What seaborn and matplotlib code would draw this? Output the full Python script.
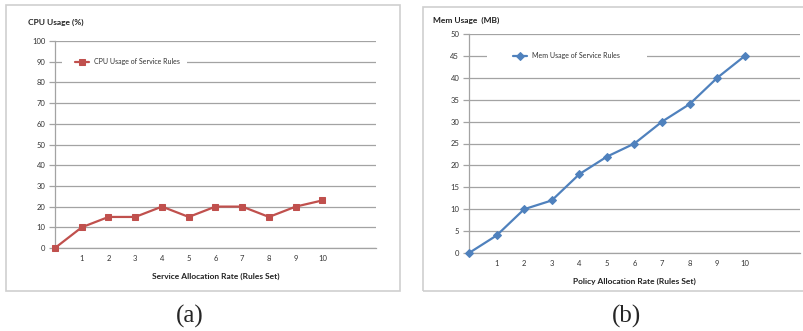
import matplotlib
matplotlib.use("Agg")
import matplotlib.pyplot as plt
from matplotlib.patches import Rectangle
import seaborn as sns
import pandas as pd

# values
rules_set = [0, 1, 2, 3, 4, 5, 6, 7, 8, 9, 10]
cpu_usage = [0, 10, 15, 15, 20, 15, 20, 20, 15, 20, 23]
mem_usage = [0, 4, 10, 12, 18, 22, 25, 30, 34, 40, 45]
x_tick_labels = ["1", "2", "3", "4", "5", "6", "7", "8", "9", "10"]
cpu_ticks = list(range(0, 101, 10))
mem_ticks = list(range(0, 51, 5))

RED = "#C0504D"
BLUE = "#4F81BD"
GRID = "#a3a3a3"

sns.set_theme(style="white")
plt.rcParams["font.family"] = ["Lato", "DejaVu Sans"]

fig = plt.figure(figsize=(8.04, 3.31), dpi=100)
W, H = 804, 331


def px_box(x0, y0, x1, y1):
    # pixel box (top-left origin) -> figure fraction [left, bottom, width, height]
    return [x0 / W, 1 - y1 / H, (x1 - x0) / W, (y1 - y0) / H]


# outer frames around each panel
for x0, y0, x1, y1 in [(6, 5, 400, 291), (423, 7, 806, 291)]:
    l, b, w, h = px_box(x0, y0, x1, y1)
    fig.patches.append(Rectangle((l, b), w, h, transform=fig.transFigure,
                                 fill=False, edgecolor="#cfcfcf", linewidth=1.2))


def draw_panel(box, values, ticks, color, marker, msize, label, ylabel, xlabel,
               ylabel_xy, gap, leg_x):
    ax = fig.add_axes(px_box(*box))
    df = pd.DataFrame({"x": rules_set, "y": values})
    sns.lineplot(data=df, x="x", y="y", ax=ax, color=color, linewidth=1.6,
                 marker=marker, markersize=msize, markeredgecolor=color,
                 label=label, zorder=3, clip_on=False)
    ax.set_xlim(0, 12)
    ax.set_ylim(ticks[0], ticks[-1])
    ax.set_yticks(ticks)
    ax.set_xticks(rules_set[1:])
    ax.set_xticklabels(x_tick_labels)
    ax.set_axisbelow(True)
    ax.yaxis.grid(True, color=GRID, linewidth=0.9)
    ax.xaxis.grid(False)
    for s in ["top", "right"]:
        ax.spines[s].set_visible(False)
    for s in ["left", "bottom"]:
        ax.spines[s].set_color(GRID)
        ax.spines[s].set_linewidth(0.9)
    ax.tick_params(axis="y", left=True, length=4, color=GRID, width=0.9,
                   labelsize=5.5, pad=3, labelcolor="#333333")
    ax.tick_params(axis="x", bottom=False, length=0, labelsize=5.5, pad=5,
                   labelcolor="#333333")
    ax.set_xlabel(xlabel, fontsize=6, fontweight="bold", labelpad=8,
                  color="#222222")
    ax.set_ylabel("")
    fig.text(ylabel_xy[0] / W, 1 - ylabel_xy[1] / H, ylabel, fontsize=6,
             fontweight="bold", color="#222222", va="center", ha="left")
    # white strip hiding the grid line behind the legend
    ax.add_patch(Rectangle((gap[0], 0.87), gap[1] - gap[0], 0.06,
                           transform=ax.transAxes, facecolor="white",
                           edgecolor="none", zorder=1))
    ax.legend(loc="center left", bbox_to_anchor=(leg_x, 0.9), frameon=False,
              fontsize=5, borderpad=0, borderaxespad=0, handlelength=2.0,
              handletextpad=0.7, labelcolor="#333333")
    return ax


draw_panel((55, 41, 376, 248), cpu_usage, cpu_ticks, RED, "s", 5,
           "CPU Usage of Service Rules", "CPU Usage (%)",
           "Service Allocation Rate (Rules Set)", (28, 22),
           (0.022, 0.411), 0.062)
draw_panel((469, 34, 800, 253), mem_usage, mem_ticks, BLUE, "D", 3.6,
           "Mem Usage of Service Rules", "Mem Usage  (MB)",
           "Policy Allocation Rate (Rules Set)", (433, 20),
           (0.054, 0.538), 0.133)

for x, t in [(190, "(a)"), (627, "(b)")]:
    fig.text(x / W, 1 - 316 / H, t, fontsize=18, ha="center", va="center",
             family=["Liberation Serif", "DejaVu Serif"])

fig.savefig("out.png", dpi=100, facecolor="white")
